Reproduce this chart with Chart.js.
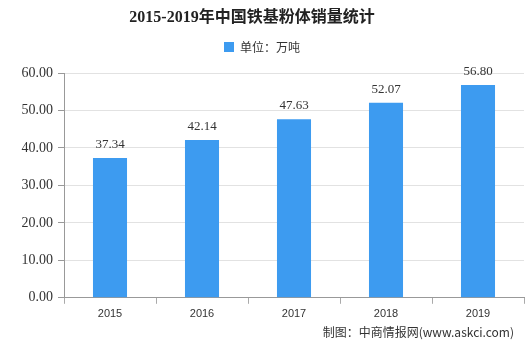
<!DOCTYPE html>
<html><head><meta charset="utf-8">
<script src="https://cdn.jsdelivr.net/npm/chart.js@4"></script>
<style>html,body{margin:0;padding:0;background:#fff}#wrap{width:531px;height:340px}</style>
</head><body><div id="wrap"><canvas id="c" width="531" height="340"></canvas></div>
<script>
const titleText = "2015-2019年中国铁基粉体销量统计";
const seriesName = "单位：万吨";
const categories = ["2015", "2016", "2017", "2018", "2019"];
const values = [37.34, 42.14, 47.63, 52.07, 56.80];
const yTicks = [0, 10, 20, 30, 40, 50, 60];
const footerText = "制图：中商情报网(www.askci.com)";

const overlay = {
  id: 'overlay',
  beforeInit(chart) {
    const lg = chart.legend;
    if (lg) {
      const orig = lg.fit;
      lg.fit = function () { orig.call(this); this.height += 10; };
    }
  },
  afterDatasetsDraw(chart) {
    const ctx = chart.ctx;
    const meta = chart.getDatasetMeta(0);
    ctx.save();
    ctx.font = '13px "Liberation Serif", serif';
    ctx.fillStyle = '#333';
    ctx.textAlign = 'center';
    ctx.textBaseline = 'bottom';
    meta.data.forEach((bar, i) => {
      ctx.fillText(values[i].toFixed(2), bar.x, bar.y - 7);
    });
    ctx.restore();
  },
  afterDraw(chart) {
    const ctx = chart.ctx;
    ctx.save();
    ctx.font = 'bold 16px "Liberation Serif", "Noto Sans CJK SC", serif';
    ctx.fillStyle = '#222';
    ctx.textAlign = 'center';
    ctx.textBaseline = 'middle';
    ctx.fillText(titleText, 252, 18);
    ctx.font = '12px "Noto Sans CJK SC", sans-serif';
    ctx.fillStyle = '#333';
    ctx.textAlign = 'right';
    ctx.fillText(footerText, 514, 332);
    ctx.restore();
  }
};

new Chart(document.getElementById('c'), {
  type: 'bar',
  data: {
    labels: categories,
    datasets: [{
      label: seriesName,
      data: values,
      backgroundColor: '#3d9bf0',
      borderWidth: 0,
      barPercentage: 0.37,
      categoryPercentage: 1.0
    }]
  },
  options: {
    responsive: false,
    animation: false,
    layout: { padding: { top: 35, right: 7, bottom: 15, left: 0 } },
    plugins: {
      title: { display: false },
      tooltip: { enabled: false },
      legend: {
        display: true,
        position: 'top',
        labels: {
          boxWidth: 10, boxHeight: 10,
          color: '#333',
          font: { size: 12, family: '"Noto Sans CJK SC", sans-serif' },
          padding: 6
        }
      }
    },
    scales: {
      x: {
        offset: true,
        grid: { display: true, drawOnChartArea: false, drawTicks: true, tickLength: 6, color: '#aaa', offset: true },
        border: { display: true, color: '#999' },
        ticks: { color: '#333', padding: 4, font: { size: 11, family: '"Liberation Sans", sans-serif' } }
      },
      y: {
        min: 0, max: 60,
        afterFit: s => { s.width = 64; },
        afterBuildTicks: s => { s.ticks = yTicks.map(v => ({ value: v })); },
        grid: { color: '#e2e2e2', tickColor: '#999', tickLength: 6, drawTicks: true },
        border: { display: true, color: '#999' },
        ticks: {
          color: '#333', padding: 5,
          font: { size: 14, family: '"Liberation Serif", serif' },
          callback: v => Number(v).toFixed(2)
        }
      }
    }
  },
  plugins: [overlay]
});
</script></body></html>
